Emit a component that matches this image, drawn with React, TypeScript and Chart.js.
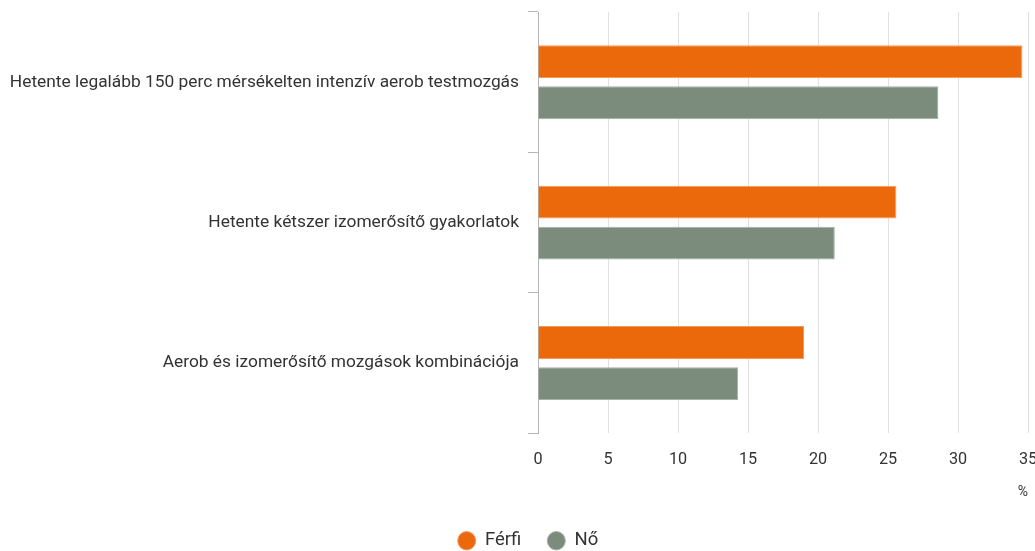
import React, { useEffect, useRef } from "react";
import { Chart, registerables } from "chart.js";

Chart.register(...registerables);

const categories = [
  "Hetente legalább 150 perc mérsékelten intenzív aerob testmozgás",
  "Hetente kétszer izomerősítő gyakorlatok",
  "Aerob és izomerősítő mozgások kombinációja",
];
const ferfiValues = [34.6, 25.6, 19.0];
const noValues = [28.6, 21.2, 14.3];
const xTicks = [0, 5, 10, 15, 20, 25, 30, 35];
const seriesNames = ["Férfi", "Nő"];

const shiftLegend = {
  id: "shiftLegend",
  afterLayout(chart: any) {
    const l = chart.legend;
    if (l) {
      l.left += 14;
      l.right += 14;
    }
  },
};

export default function App() {
  const ref = useRef<HTMLCanvasElement | null>(null);
  useEffect(() => {
    document.body.style.margin = "0";
    const ctx = ref.current!;
    const chart = new Chart(ctx, {
      type: "bar",
      data: {
        labels: categories,
        datasets: [
          {
            label: seriesNames[0],
            data: ferfiValues,
            backgroundColor: "#EB690B",
            borderColor: "#F29A5A",
            borderWidth: 1,
            categoryPercentage: 0.585,
            barPercentage: 0.8,
          },
          {
            label: seriesNames[1],
            data: noValues,
            backgroundColor: "#7B8B7C",
            borderColor: "#A5B0A6",
            borderWidth: 1,
            categoryPercentage: 0.585,
            barPercentage: 0.8,
          },
        ],
      },
      plugins: [shiftLegend],
      options: {
        indexAxis: "y",
        responsive: false,
        animation: false,
        layout: { padding: { top: 12, right: 28, left: 0, bottom: 0 } },
        plugins: {
          tooltip: { enabled: false },
          legend: {
            position: "bottom",
            labels: {
              usePointStyle: true,
              pointStyle: "circle",
              pointStyleWidth: 18,
              boxHeight: 13,
              font: { family: "Roboto", size: 18.5 },
              color: "#333",
              padding: 26,
            },
          },
        },
        scales: {
          x: {
            min: 0,
            max: 35,
            afterBuildTicks: (s: any) => {
              s.ticks = xTicks.map((v) => ({ value: v }));
            },
            afterFit: (s: any) => {
              s.paddingRight = 0;
              s.paddingLeft = 0;
            },
            grid: { color: "#e0e0e0", drawTicks: false, lineWidth: 1 },
            border: { display: false },
            ticks: {
              font: { family: "Roboto", size: 16.2 },
              color: "#333",
              padding: 17,
            },
            title: {
              display: true,
              text: "%",
              align: "end",
              font: { family: "Roboto", size: 14 },
              color: "#333",
              padding: { top: -2.5, bottom: 4.5 },
            },
          },
          y: {
            afterFit: (s: any) => {
              s.width = 538;
              s.paddingTop = 0;
              s.paddingBottom = 0;
            },
            grid: {
              drawOnChartArea: false,
              tickLength: 10,
              color: "#b5b5b5",
            },
            border: { display: true, color: "#b5b5b5" },
            ticks: {
              font: { family: "Roboto", size: 17.35 },
              color: "#333",
              padding: 9,
            },
          },
        },
      },
    } as any);
    return () => chart.destroy();
  }, []);
  return (
    <div style={{ width: 1035, height: 551, overflow: "hidden", position: "relative" }}>
      <canvas ref={ref} width={1056} height={560} style={{ display: "block" }} />
    </div>
  );
}
